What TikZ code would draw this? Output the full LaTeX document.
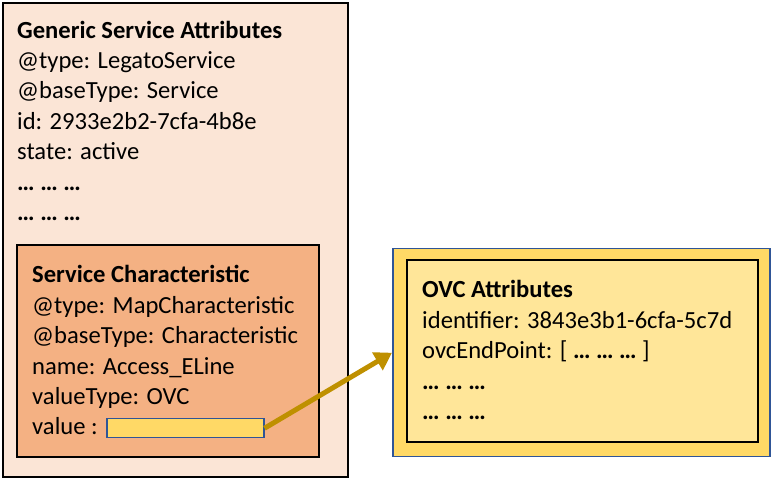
\documentclass[tikz,border=0pt]{standalone}
\usepackage{fontspec}
\setmainfont{Carlito}
\usetikzlibrary{arrows.meta}
\definecolor{OuterClr}{HTML}{FBE5D6}
\definecolor{CharClr}{HTML}{F4B183}
\definecolor{ValClr}{HTML}{FFD966}
\definecolor{OvcClr}{HTML}{FFE699}
\definecolor{EdgeBlue}{HTML}{2F5597}
\definecolor{ArrowClr}{HTML}{BF9000}
\newcommand\etcdots{\textbf{… … …}}

\begin{document}
\begin{tikzpicture}[x=1pt,y=-1pt,
  box/.style={draw=black,line width=2pt,anchor=north west,inner sep=0pt},
  bluebox/.style={draw=EdgeBlue,line width=1.5pt,anchor=north west,inner sep=0pt},
  attrs/.style={anchor=base west,inner sep=0pt,align=left,
    font=\fontsize{24.6}{30.4}\selectfont}]
\useasboundingbox (0,0) rectangle (772,478);

\node[box,fill=OuterClr,minimum width=345pt,minimum height=474pt] (generic) at (2,2) {};
\node[box,fill=CharClr,minimum width=302pt,minimum height=212pt] (charbox) at (16,244) {};
\node[bluebox,fill=ValClr,minimum width=157pt,minimum height=19pt] (valbox) at (106,418) {};
\node[bluebox,fill=ValClr,minimum width=377pt,minimum height=208pt] (ovcouter) at (392,248) {};
\node[box,fill=OvcClr,minimum width=351pt,minimum height=182pt] (ovcinner) at (406,259) {};

% attribute lists (anchored at the baseline of the last line)
\node[attrs] (generictxt) at (17,220.5) {\textbf{Generic Service Attributes}\\
  @type: LegatoService\\ @baseType: Service\\ id: 2933e2b2-7cfa-4b8e\\
  state: active\\ \etcdots\\ \etcdots};
\node[attrs] (chartxt) at (32,435) {\textbf{Service Characteristic}\\
  @type: MapCharacteristic\\ @baseType: Characteristic\\ name: Access\_ELine\\
  valueType: OVC\\ value :};
\node[attrs] (ovctxt) at (422,419.6) {\textbf{OVC Attributes}\\
  identifier: 3843e3b1-6cfa-5c7d\\ ovcEndPoint: [ \etcdots{} ]\\ \etcdots\\ \etcdots};

\draw[ArrowClr,line width=5pt,-{Triangle[length=17pt,width=20pt]}]
  (valbox.east) -- (ovcouter.west);

\end{tikzpicture}
\end{document}
